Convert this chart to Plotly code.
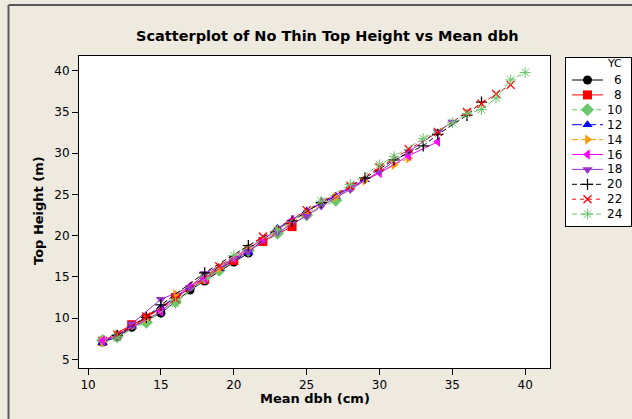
import plotly.graph_objects as go

# Yield-class series: mean dbh (cm) and top height (m), no-thin stands
yc_labels = ["6", "8", "10", "12", "14", "16", "18", "20", "22", "24"]

dbh_6 = [11, 12, 13, 15, 17, 18, 20, 21]
ht_6 = [7.1, 7.7, 8.9, 10.6, 13.4, 14.5, 16.8, 17.9]

dbh_8 = [11, 13, 14, 16, 18, 20, 22, 24]
ht_8 = [7.2, 9.2, 10.0, 12.5, 14.7, 17.0, 19.3, 21.1]

dbh_10 = [11, 12, 14, 16, 18, 19, 21, 23, 25, 27]
ht_10 = [7.3, 7.8, 9.5, 12.0, 14.9, 15.8, 18.2, 20.3, 22.5, 24.3]

dbh_12 = [11, 13, 15, 17, 19, 21, 23, 25, 27, 29]
ht_12 = [7.0, 9.0, 11.3, 13.8, 16.0, 18.0, 20.9, 23.0, 24.8, 26.8]

dbh_14 = [11, 12, 14, 16, 18, 19, 21, 23, 25, 27, 29, 31, 32]
ht_14 = [7.2, 8.0, 9.9, 12.9, 15.1, 16.0, 18.4, 20.6, 22.7, 24.7, 26.7, 28.6, 29.4]

dbh_16 = [11, 12, 15, 17, 18, 20, 22, 24, 26, 28, 30, 32, 34]
ht_16 = [7.3, 7.9, 10.8, 13.9, 14.8, 17.3, 19.6, 21.9, 24.0, 25.9, 27.6, 29.7, 31.4]

dbh_18 = [12, 13, 15, 17, 18, 21, 23, 25, 26, 28, 30, 32, 34, 35]
ht_18 = [7.7, 9.3, 12.3, 13.7, 15.4, 18.1, 20.4, 22.4, 23.6, 25.6, 27.8, 30.2, 32.6, 33.8]

dbh_20 = [12, 14, 15, 18, 21, 24, 26, 29, 31, 33, 34, 36, 37]
ht_20 = [7.9, 10.1, 11.6, 15.5, 18.8, 21.8, 24.0, 27.0, 29.2, 30.9, 32.3, 34.6, 36.2]

dbh_22 = [12, 14, 16, 19, 22, 25, 28, 30, 32, 34, 36, 37, 38, 39]
ht_22 = [8.0, 10.2, 12.3, 16.3, 19.9, 23.1, 26.0, 28.3, 30.5, 32.6, 35.0, 36.0, 37.2, 38.3]

dbh_24 = [12, 16, 20, 23, 26, 28, 30, 31, 33, 35, 36, 37, 38, 39, 40]
ht_24 = [7.6, 11.8, 17.6, 20.7, 24.2, 26.2, 28.6, 29.6, 31.8, 33.7, 34.8, 35.3, 36.7, 38.9, 39.8]

x_ticks = [10, 15, 20, 25, 30, 35, 40]
y_ticks = [5, 10, 15, 20, 25, 30, 35, 40]

series_x = [dbh_6, dbh_8, dbh_10, dbh_12, dbh_14, dbh_16, dbh_18, dbh_20, dbh_22, dbh_24]
series_y = [ht_6, ht_8, ht_10, ht_12, ht_14, ht_16, ht_18, ht_20, ht_22, ht_24]

# symbol / colour / line style per yield class
styles = [
    dict(symbol="circle", color="#000000", dash="solid", size=9, lw=0),
    dict(symbol="square", color="#FF0000", dash="solid", size=9, lw=0),
    dict(symbol="diamond", color="#6CC76C", dash="5px,3px", size=10, lw=0),
    dict(symbol="triangle-up", color="#0000FF", dash="10px,4px", size=9, lw=0),
    dict(symbol="triangle-right", color="#FF9900", dash="6px,3px", size=9, lw=0),
    dict(symbol="triangle-left", color="#FF00FF", dash="solid", size=9, lw=0),
    dict(symbol="triangle-down", color="#9933CC", dash="solid", size=9, lw=0),
    dict(symbol="cross-thin-open", color="#000000", dash="5px,3px", size=8, lw=1.3),
    dict(symbol="x-thin-open", color="#FF0000", dash="4px,4px", size=8, lw=1.3),
    dict(symbol="asterisk-open", color="#6CC76C", dash="5px,3px", size=9, lw=1),
]

W, H = 632, 419
BG = "#EEEAE0"
FONT = "DejaVu Sans"

# plot area in pixels
px_l, px_r, px_t, px_b = 79, 550, 56, 368
# legend box in pixels
lg_l, lg_r, lg_t, lg_b = 566, 631, 58, 226

fig = go.Figure()

for xs, ys, st, name in zip(series_x, series_y, styles, yc_labels):
    fig.add_trace(go.Scatter(
        x=xs, y=ys, mode="lines+markers", name=name,
        line=dict(color=st["color"], width=1, dash=st["dash"]),
        marker=dict(symbol=st["symbol"], size=st["size"], color=st["color"],
                    line=dict(width=st["lw"], color=st["color"])),
        xaxis="x", yaxis="y", showlegend=False,
    ))

# hand-drawn legend on its own small axes
row0, row_step = 22, 14.9
line_x = [6, 37]
mark_x = 21.5
for i, (st, name) in enumerate(zip(styles, yc_labels)):
    ry = row0 + row_step * i
    fig.add_trace(go.Scatter(
        x=line_x, y=[ry, ry], mode="lines",
        line=dict(color=st["color"], width=1, dash=st["dash"]),
        xaxis="x2", yaxis="y2", showlegend=False, hoverinfo="skip",
    ))
    fig.add_trace(go.Scatter(
        x=[mark_x], y=[ry], mode="markers",
        marker=dict(symbol=st["symbol"], size=st["size"], color=st["color"],
                    line=dict(width=st["lw"], color=st["color"])),
        xaxis="x2", yaxis="y2", showlegend=False, hoverinfo="skip",
    ))
    fig.add_annotation(x=58, y=ry, xref="x2", yref="y2", text=name,
                       showarrow=False, xanchor="right", yanchor="middle",
                       font=dict(family=FONT, size=12, color="#000"))

fig.add_annotation(x=58, y=6, xref="x2", yref="y2", text="YC",
                   showarrow=False, xanchor="right", yanchor="middle",
                   font=dict(family=FONT, size=11, color="#000"))

fig.update_layout(
    width=W, height=H,
    margin=dict(l=0, r=0, t=0, b=0),
    paper_bgcolor=BG, plot_bgcolor="#FFFFFF",
    font=dict(family=FONT, size=12, color="#000"),
    xaxis=dict(
        domain=[px_l / W, px_r / W], range=[9.38, 41.7],
        tickvals=x_ticks, ticks="outside", ticklen=6, tickcolor="#000",
        showline=True, linecolor="#000", linewidth=1, mirror=True,
        showgrid=False, zeroline=False, anchor="y",
        tickfont=dict(family=FONT, size=12),
    ),
    yaxis=dict(
        domain=[1 - px_b / H, 1 - px_t / H], range=[3.95, 41.8],
        tickvals=y_ticks, ticks="outside", ticklen=6, tickcolor="#000",
        showline=True, linecolor="#000", linewidth=1, mirror=True,
        showgrid=False, zeroline=False, anchor="x",
        tickfont=dict(family=FONT, size=12),
    ),
    xaxis2=dict(
        domain=[lg_l / W, lg_r / W], range=[0, lg_r - lg_l],
        showline=True, linecolor="#000", linewidth=1, mirror=True,
        showgrid=False, zeroline=False, showticklabels=False, ticks="",
        anchor="y2", fixedrange=True,
    ),
    yaxis2=dict(
        domain=[1 - lg_b / H, 1 - lg_t / H], range=[lg_b - lg_t, 0],
        showline=True, linecolor="#000", linewidth=1, mirror=True,
        showgrid=False, zeroline=False, showticklabels=False, ticks="",
        anchor="x2", fixedrange=True,
    ),
    showlegend=False,
)

# titles
fig.add_annotation(x=327 / W, y=1 - 36 / H, xref="paper", yref="paper",
                   text="<b>Scatterplot of No Thin Top Height vs Mean dbh</b>",
                   showarrow=False, xanchor="center", yanchor="middle",
                   font=dict(family=FONT, size=14.5, color="#000"))
fig.add_annotation(x=(px_l + px_r) / 2 / W, y=1 - 398 / H, xref="paper", yref="paper",
                   text="<b>Mean dbh (cm)</b>", showarrow=False,
                   xanchor="center", yanchor="middle",
                   font=dict(family=FONT, size=13, color="#000"))
fig.add_annotation(x=38 / W, y=1 - 211 / H, xref="paper", yref="paper",
                   text="<b>Top Height (m)</b>", showarrow=False, textangle=-90,
                   xanchor="center", yanchor="middle",
                   font=dict(family=FONT, size=13, color="#000"))

# outer frame edges (left and top)
fig.add_shape(type="line", xref="paper", yref="paper",
              x0=8.5 / W, x1=8.5 / W, y0=0, y1=1 - 5 / H,
              line=dict(color="#5A5A5A", width=2))
fig.add_shape(type="line", xref="paper", yref="paper",
              x0=8.5 / W, x1=1, y0=1 - 5 / H, y1=1 - 5 / H,
              line=dict(color="#5A5A5A", width=2))

fig.write_html("out.html")
